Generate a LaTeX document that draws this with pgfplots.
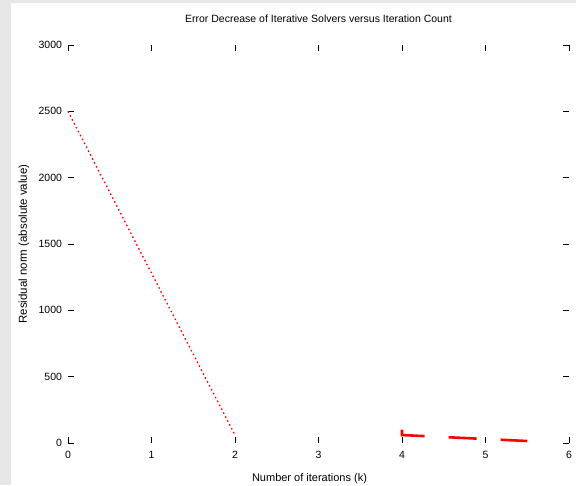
\documentclass[border=0pt]{standalone}
\usepackage{pgfplots}
\pgfplotsset{compat=1.18}
\usepackage{fontspec}
\setmainfont{Liberation Sans}
\definecolor{figgray}{RGB}{230,230,230}
\definecolor{mred}{RGB}{255,0,0}
\begin{document}
\begin{tikzpicture}
\fill[figgray] (0,0) rectangle (576pt,485pt);
\fill[white] (11pt,0) rectangle (576pt,482pt);
\useasboundingbox (0,0) rectangle (576pt,485pt);
\begin{axis}[
  at={(68pt,42pt)}, anchor=south west,
  scale only axis, width=501pt, height=398pt,
  xmin=0, xmax=6, ymin=0, ymax=3000,
  xtick={0,1,2,3,4,5,6},
  ytick={0,500,1000,1500,2000,2500,3000},
  axis line style={draw=none},
  tick align=inside,
  major tick length=6pt,
  tick style={black, line width=0.6pt},
  scaled y ticks=false,
  /pgf/number format/assume math mode=true,
  /pgf/number format/set thousands separator={},
  tick label style={font=\fontsize{10.5}{12}\selectfont},
  xticklabel style={yshift=-5pt},
  yticklabel style={xshift=-2.5pt},
  title={Error Decrease of Iterative Solvers versus Iteration Count},
  title style={at={([yshift=16pt]axis description cs:0.5,1)}, anchor=base, font=\fontsize{10.5}{12}\selectfont},
  xlabel={Number of iterations (k)},
  xlabel style={at={([xshift=-9pt,yshift=-38pt]axis description cs:0.5,0)}, anchor=base, font=\fontsize{11}{13}\selectfont},
  ylabel={Residual norm (absolute value)},
  ylabel style={at={([xshift=-41pt]axis description cs:0,0.5)}, anchor=base, rotate=0, font=\fontsize{11.5}{13}\selectfont},
  clip=false,
]
\addplot[mred, line width=1.3pt, dash pattern=on 1.6pt off 2.8pt] coordinates {
  (0,2500) (2,60)
};
\addplot[mred, line width=2.6pt, dash pattern=on 28pt off 24pt] coordinates {
  (4,100) (4,60) (5.5,15)
};
\end{axis}
\end{tikzpicture}
\end{document}
